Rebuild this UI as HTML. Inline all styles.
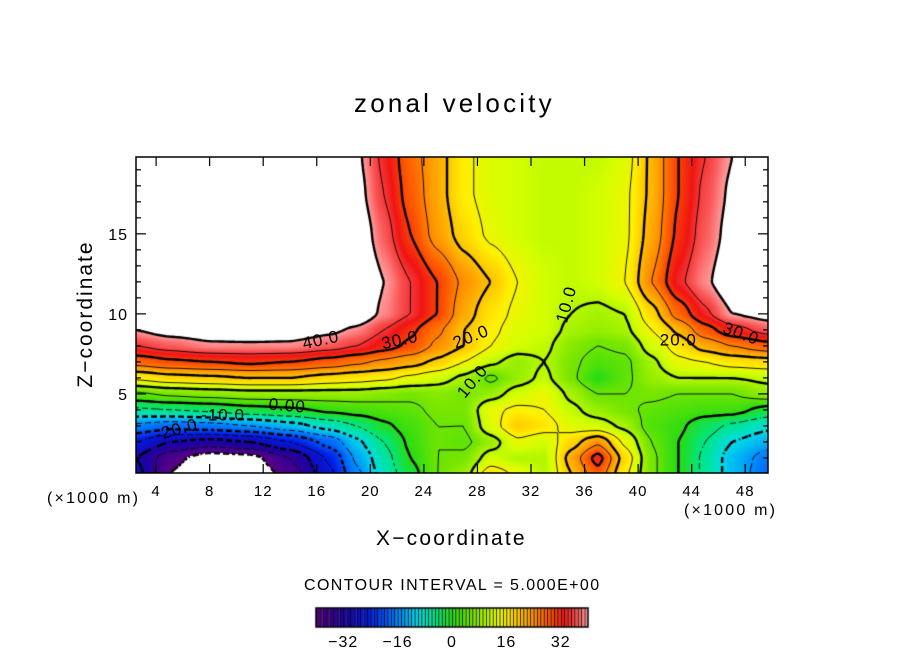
<!DOCTYPE html>
<html><head><meta charset="utf-8">
<style>
body{margin:0;background:#fff;}
#root{position:relative;width:904px;height:654px;overflow:hidden;background:#fff;font-family:"Liberation Sans",sans-serif;color:#000;}
.t{position:absolute;white-space:nowrap;}
</style></head>
<body>
<div id="root">
<div class="t" style="left:354px;top:88px;font-size:26px;letter-spacing:3.2px;">zonal velocity</div>
<canvas id="cv" width="904" height="654" style="position:absolute;left:0;top:0"></canvas>
<svg id="sv" width="904" height="654" style="position:absolute;left:0;top:0"></svg>
<div class="t" style="left:6px;top:302px;font-size:21px;letter-spacing:2px;transform:rotate(-90deg);transform-origin:80px 12px;width:160px;text-align:center;">Z−coordinate</div>
<div class="t" style="left:376px;top:527px;font-size:21px;letter-spacing:2.2px;">X−coordinate</div>
<div class="t" style="left:47px;top:490px;font-size:16px;letter-spacing:2.2px;">(×1000 m)</div>
<div class="t" style="left:684px;top:502px;font-size:16px;letter-spacing:2.2px;">(×1000 m)</div>
<div class="t" style="left:304px;top:577px;font-size:16px;letter-spacing:1.4px;">CONTOUR INTERVAL = 5.000E+00</div>
</div>
<script>
const xs=[2.5,5,8,11,14,17,19,21,23,25,27,29,31,33,35,37,39,41,43,45,47,49.7];
const zs=[0,1,2,3,4,5,6,7,8,9,10,12,15,17.5,19.75];
const row0=[-28,-40,-46,-44,-38,-26,-16,-8,-2,5,8,18,14,10,20,28,16,6,0,-6,-12,-18];
const row1=[-30,-38,-43,-42,-35,-24,-14,-7,0,5,6,12,10,10,22,32,18,6,0,-6,-12,-17];
const row2=[-25,-30,-32,-30,-25,-18,-11,-5,1,5,4,8,14,12,18,24,14,5,0,-5,-10,-13];
const row3=[-16,-18,-17,-15,-12,-8,-5,-1,2,5,5,13,19,17,13,12,9,3,1,-3,-6,-9];
const row4=[-6,-5,-4,-2,-1,1,2,3,4,6,6,14,16,15,11,8,6,4,3,2,2,-2];
const row5=[4,6,7,8,8,8,8,7,6,7,6,8,12,14,9,5,5,6,5,5,5,8];
const row6=[16,18,19,20,20,18,17,16,14,12,9,4,8,11,6,0,4,8,10,10,10,11];
const row7=[27,29,30,31,30,28,26,24,22,19,15,11,8,10,6,3,4,9,14,15,17,18];
const row8=[35,37,39,39,39,37,35,32,29,24,20,15,12,11,7,5,6,12,17,22,25,28];
const row9=[40,42,43,44,43,41,39,35,31,26,20,16,13,12,9,8,9,15,21,28,33,37];
const row10=[46,47,48,48,48,47,44,39,35,30,22,17,14,12,10,9,10,18,27,34,40,42];
const row11=[50,50,50,50,50,50,46,40,35,30,24,20,15,12,11,12,15,25,34,39,44,45];
const row12=[50,50,50,50,50,50,44,37,30,23,18,14,12,11,11,12,14,22,31,37,42,48];
const row13=[50,50,50,50,50,50,42,35,28,22,16,13,12,11,11,12,14,21,30,36,41,48];
const row14=[50,50,50,50,50,48,41,34,27,22,16,13,12,11,11,11,13,21,30,35,40,46];
const grid=[row0,row1,row2,row3,row4,row5,row6,row7,row8,row9,row10,row11,row12,row13,row14];
const cbTicks=[-32,-16,0,16,32];
const levels=[];for(let v=-40;v<=40;v+=5)levels.push(v);
const contourLabels=[["40.0",16.3,8.4,-12],["30.0",22.2,8.4,-12],["20.0",27.5,8.6,-22],["10.0",34.6,10.6,-75],["20.0",43,8.4,0],["30.0",47.7,8.8,20],["10.0",27.6,5.8,-50],["0.00",13.8,4.3,5],["-10.0",9,3.7,0],["-20.0",5.5,2.8,-15]];

const PL=136,PR=768,PT=157,PB=473,X0=2.5,X1=49.7,Z0=0.06,Z1=19.8;
const sx=x=>PL+(x-X0)/(X1-X0)*(PR-PL);
const sy=z=>PB-(z-Z0)/(Z1-Z0)*(PB-PT);
const stops=[[-40,90,0,130],[-32,30,0,160],[-24,0,30,230],[-16,0,130,255],[-10,0,220,230],[-5,0,230,130],[0,40,220,20],[6,120,230,0],[12,210,255,0],[16,255,240,0],[22,255,170,0],[28,255,90,0],[33,240,20,20],[37,250,90,90],[40,255,160,160]];
function col(v){if(v>40||v<-40)return[255,255,255];for(let i=1;i<stops.length;i++){if(v<=stops[i][0]){const a=stops[i-1],b=stops[i],t=(v-a[0])/(b[0]-a[0]);return[a[1]+t*(b[1]-a[1]),a[2]+t*(b[2]-a[2]),a[3]+t*(b[3]-a[3])];}}return[255,160,160];}
function idx(arr,v){for(let i=0;i<arr.length-2;i++){if(v<arr[i+1])return i;}return arr.length-2;}
function field(x,z){const i=idx(xs,x),j=idx(zs,z);let tx=(x-xs[i])/(xs[i+1]-xs[i]),tz=(z-zs[j])/(zs[j+1]-zs[j]);tx=Math.max(0,Math.min(1,tx));tz=Math.max(0,Math.min(1,tz));
 tx=tx*tx*(3-2*tx)*0.5+tx*0.5;tz=tz*tz*(3-2*tz)*0.5+tz*0.5;
 const a=grid[j][i],b=grid[j][i+1],c=grid[j+1][i],d=grid[j+1][i+1];return (a*(1-tx)+b*tx)*(1-tz)+(c*(1-tx)+d*tx)*tz;}
const cv=document.getElementById('cv'),ctx=cv.getContext('2d');
const W=PR-PL,H=PB-PT;const img=ctx.createImageData(W,H);
for(let py=0;py<H;py++)for(let px=0;px<W;px++){const x=X0+(px+0.5)/W*(X1-X0),z=Z1-(py+0.5)/H*(Z1-Z0);const c=col(field(x,z));const k=(py*W+px)*4;img.data[k]=c[0];img.data[k+1]=c[1];img.data[k+2]=c[2];img.data[k+3]=255;}
ctx.putImageData(img,PL,PT);
const st=3,nx=Math.ceil(W/st),ny=Math.ceil(H/st);const F=[];
for(let j=0;j<=ny;j++){F.push([]);for(let i=0;i<=nx;i++){const px=Math.min(W,i*st),py=Math.min(H,j*st);F[j].push(field(X0+px/W*(X1-X0),Z1-py/H*(Z1-Z0)));}}
ctx.save();ctx.beginPath();ctx.rect(PL,PT,W,H);ctx.clip();
levels.forEach(L=>{ctx.beginPath();ctx.lineWidth=(L%10===0)?2.4:0.9;ctx.strokeStyle='#000';
 for(let j=0;j<ny;j++)for(let i=0;i<nx;i++){const v=[F[j][i],F[j][i+1],F[j+1][i+1],F[j+1][i]];const p=[[i,j],[i+1,j],[i+1,j+1],[i,j+1]];const pts=[];
  for(let e=0;e<4;e++){const a=v[e],b=v[(e+1)%4];if((a<L)!==(b<L)){const t=(L-a)/(b-a);const A=p[e],B=p[(e+1)%4];pts.push([PL+(A[0]+t*(B[0]-A[0]))*st,PT+(A[1]+t*(B[1]-A[1]))*st]);}}
  if(L<0&&((i+j)%3===0))continue;
  for(let k=0;k+1<pts.length;k+=2){ctx.moveTo(pts[k][0],pts[k][1]);ctx.lineTo(pts[k+1][0],pts[k+1][1]);}}
 ctx.stroke();});
ctx.restore();
const CBL=316,CBR=588,CBT=608,CBB=627;
for(let v=-40;v<40;v++){const x0=CBL+(v+40)/80*(CBR-CBL),x1=CBL+(v+41)/80*(CBR-CBL);const c=col(v+0.5);ctx.fillStyle=`rgb(${c[0]|0},${c[1]|0},${c[2]|0})`;ctx.fillRect(x0,CBT,x1-x0,CBB-CBT);ctx.fillStyle='#000';ctx.fillRect(x0,CBT,0.8,CBB-CBT);}
ctx.strokeStyle='#000';ctx.lineWidth=1.5;ctx.strokeRect(CBL,CBT,CBR-CBL,CBB-CBT);
const NS='http://www.w3.org/2000/svg',sv=document.getElementById('sv');
function mk(tag,attrs,txt){const e=document.createElementNS(NS,tag);for(const k in attrs)e.setAttribute(k,attrs[k]);if(txt!==undefined)e.textContent=txt;sv.appendChild(e);return e;}
let fr=mk('rect',{x:PL,y:PT,width:W,height:H,fill:'none',stroke:'#000','stroke-width':1.5});


for(let x=4;x<=48;x+=4){const X=sx(x);
 let t1=mk('line',{x1:X,y1:PB,x2:X,y2:PB-9,stroke:'#000','stroke-width':1.2});
 
 
 mk('line',{x1:X,y1:PT,x2:X,y2:PT+9,stroke:'#000','stroke-width':1.2});
 let tl=mk('text',{x:X,y:496,'font-size':15,'letter-spacing':1,'text-anchor':'middle','font-family':'Liberation Sans'},String(x));
 
 }
for(let z=1;z<=19;z+=1){const Y=sy(z),len=(z%5===0)?10:5;
 mk('line',{x1:PL,y1:Y,x2:PL+len,y2:Y,stroke:'#000','stroke-width':1.2});
 mk('line',{x1:PR,y1:Y,x2:PR-len,y2:Y,stroke:'#000','stroke-width':1.2});
 if(z%5===0){let yl=mk('text',{x:PL-8,y:Y+6,'font-size':16,'letter-spacing':1,'text-anchor':'end','font-family':'Liberation Sans'},String(z));
 
 }}
contourLabels.forEach(c=>{const X=sx(c[1]),Y=sy(c[2]);
 let t=mk('text',{x:X,y:Y+6,'font-size':17,'letter-spacing':1,'text-anchor':'middle','font-family':'Liberation Sans',transform:`rotate(${c[3]} ${X} ${Y})`},c[0]);
 
 });
cbTicks.forEach(v=>{const X=CBL+(v+40)/80*(CBR-CBL);
 let t=mk('text',{x:X,y:647,'font-size':16,'letter-spacing':1,'text-anchor':'middle','font-family':'Liberation Sans'},v<0?'−'+(-v):String(v));
 
 });
</script>
</body></html>
